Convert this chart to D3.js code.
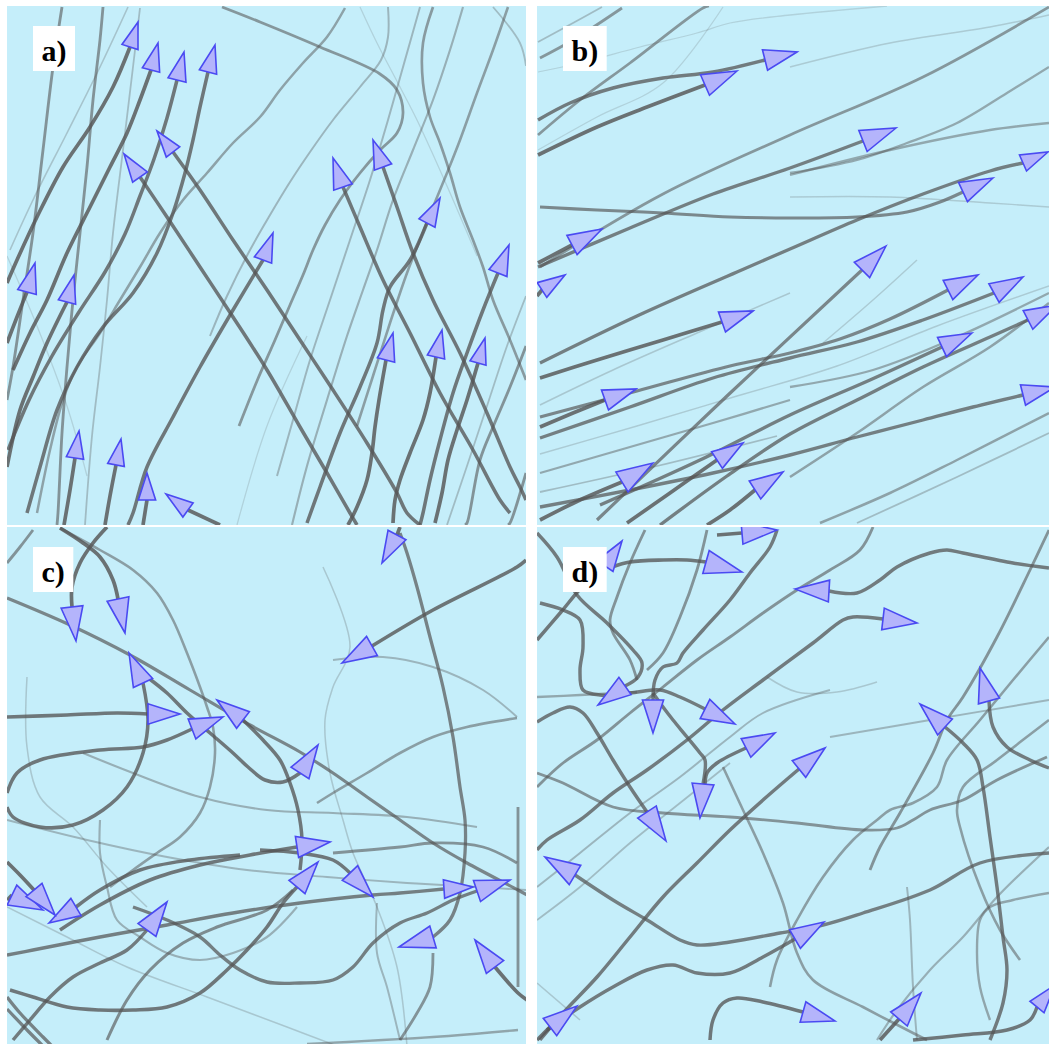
<!DOCTYPE html>
<html>
<head>
<meta charset="utf-8">
<script src="https://cdn.jsdelivr.net/npm/d3@7"></script>
<style>
  html, body { margin: 0; padding: 0; background: #ffffff; overflow: hidden; }
  svg { display: block; }
</style>
</head>
<body>
<svg id="chart" width="1049" height="1044"></svg>
<script>
// Agent trails in four simulation snapshots. Each trail lists positions in
// panel world units (0..519), oldest first. When head is true the agent is
// still in view: the final point is where its heading arrow points to.
// age: 0 = current trail, larger = older trail that has faded out.

const panelLabels = ["a)", "b)", "c)", "d)"];

const trailsA = [
  {age: 0, head: true, p: [[0,277],[10,254],[30,211],[56,161],[83,121],[106,81],[123,41],[131,16]]},
  {age: 0, head: true, p: [[6,364],[23,327],[40,294],[60,247],[83,201],[103,161],[120,127],[133,94],[144,64],[151,37]]},
  {age: 0.2, head: true, p: [[1,444],[22,394],[45,350],[72,306],[98,266],[118,228],[133,190],[147,153],[160,112],[170,74],[177,46]]},
  {age: 0.2, head: true, p: [[20,507],[33,461],[50,404],[70,361],[96,321],[126,287],[150,247],[166,207],[178,167],[186,134],[193,101],[201,66],[208,39]]},
  {age: 0.2, head: true, p: [[413,519],[400,507],[390,487],[360,437],[326,384],[293,334],[260,284],[226,234],[193,184],[166,146],[150,125]]},
  {age: 0.2, head: true, p: [[350,519],[343,507],[320,467],[293,421],[260,364],[226,311],[193,261],[160,211],[133,171],[117,148]]},
  {age: 0.2, head: true, p: [[121,519],[126,507],[140,461],[166,411],[193,361],[226,304],[256,254],[266,227]]},
  {age: 0.2, head: true, p: [[503,507],[493,494],[466,444],[433,387],[403,327],[376,274],[353,221],[336,181],[326,152]]},
  {age: 0.2, head: true, p: [[519,494],[513,481],[503,461],[480,407],[453,347],[426,294],[406,247],[390,201],[376,161],[366,134]]},
  {age: 0.2, head: true, p: [[300,517],[313,481],[333,427],[353,381],[370,337],[376,304],[383,281],[403,254],[420,217],[433,192]]},
  {age: 0.2, head: true, p: [[413,519],[416,507],[423,474],[433,434],[446,387],[460,347],[476,304],[491,267],[502,239]]},
  {age: 0, head: true, p: [[341,519],[350,501],[360,474],[365,447],[368,421],[372,394],[379,354],[386,327]]},
  {age: 0, head: true, p: [[386,517],[388,494],[393,474],[403,447],[416,414],[423,387],[429,351],[435,324]]},
  {age: 0, head: true, p: [[428,517],[435,487],[441,454],[450,424],[460,394],[471,357],[478,332]]},
  {age: 0, head: true, p: [[57,519],[63,484],[68,452],[72,425]]},
  {age: 0, head: true, p: [[98,519],[103,490],[109,459],[114,433]]},
  {age: 0, head: true, p: [[136,519],[140,494],[140,467]]},
  {age: 0, head: true, p: [[213,519],[181,504],[159,488]]},
  {age: 0, head: true, p: [[0,337],[10,311],[20,286],[28,257]]},
  {age: 0, head: true, p: [[0,461],[13,404],[26,371],[40,337],[60,296],[67,269]]},
  {age: 1, head: false, p: [[55,1],[46,61],[36,144],[26,227],[16,294],[6,361],[0,394]]},
  {age: 1, head: false, p: [[96,1],[93,34],[86,94],[80,161],[73,227],[66,294],[60,361],[55,427],[51,507],[50,519]]},
  {age: 2.2, head: false, p: [[133,2],[126,61],[116,144],[106,227],[100,294],[93,361],[85,430],[78,519]]},
  {age: 2.4, head: false, p: [[121,1],[93,61],[60,127],[26,194],[3,244]]},
  {age: 1.1, head: false, p: [[215,1],[253,16],[313,41],[373,68],[390,84],[396,107],[390,127],[373,144],[353,167],[333,194],[318,219],[306,244],[296,269],[283,299],[268,334],[250,375],[232,420]]},
  {age: 1.4, head: false, p: [[338,2],[320,31],[296,57],[273,84],[253,111],[226,137],[200,167],[176,194],[153,227],[133,261],[113,294],[93,327],[70,361],[56,394],[43,444],[30,507]]},
  {age: 2, head: false, p: [[381,1],[381,31],[374,54],[353,81],[326,114],[303,146],[283,176],[263,209],[243,244],[220,290],[203,330]]},
  {age: 2, head: false, p: [[413,1],[398,54],[381,114],[363,174],[343,234],[323,294],[303,354],[286,414],[270,470]]},
  {age: 1.2, head: false, p: [[426,1],[416,37],[416,77],[423,111],[433,137],[443,167],[453,201],[466,234],[476,261],[486,294],[503,334],[519,374]]},
  {age: 1.8, head: false, p: [[456,1],[443,44],[426,94],[406,144],[386,194],[370,244],[356,284],[340,330],[320,394],[300,460],[285,519]]},
  {age: 1.3, head: false, p: [[501,1],[486,44],[470,87],[453,134],[440,167],[426,201],[413,234],[400,267],[383,317],[366,370],[350,420]]},
  {age: 2.8, head: false, p: [[353,1],[370,37],[393,81],[410,114],[440,180],[470,250]]},
  {age: 2.2, head: false, p: [[486,1],[513,37],[519,60]]},
  {age: 1, head: false, p: [[519,340],[503,381],[486,421],[473,454],[460,517],[458,519]]},
  {age: 1, head: false, p: [[519,467],[503,517],[501,519]]},
  {age: 2.8, head: false, p: [[0,250],[30,320],[60,400],[80,470]]},
  {age: 2.8, head: false, p: [[230,519],[260,420],[300,330]]},
  {age: 2.2, head: false, p: [[440,519],[460,460],[480,400],[500,340],[519,290]]}
];

const trailsB = [
  {age: 0, head: true, p: [[1,149],[60,121],[110,101],[168,79],[200,65]]},
  {age: 0.3, head: true, p: [[1,114],[33,97],[76,82],[126,72],[176,66],[228,54],[260,46]]},
  {age: 1.1, head: false, p: [[1,129],[43,94],[93,57],[166,2],[172,0]]},
  {age: 1.1, head: false, p: [[3,52],[36,34],[85,2]]},
  {age: 2.2, head: false, p: [[1,36],[36,17],[65,1]]},
  {age: 2.8, head: false, p: [[1,66],[43,57],[103,41],[160,27],[193,17],[253,9],[350,0]]},
  {age: 2.8, head: false, p: [[1,144],[60,111],[126,77],[186,1]]},
  {age: 0.7, head: true, p: [[3,201],[60,204],[126,207],[193,211],[253,212],[320,211],[370,206],[403,196],[426,186],[456,172]]},
  {age: 0, head: true, p: [[1,257],[35,239],[65,223]]},
  {age: 0.4, head: true, p: [[1,261],[93,222],[176,188],[253,162],[326,135],[359,122]]},
  {age: 1.1, head: false, p: [[3,261],[126,188],[253,129],[386,71],[512,1]]},
  {age: 2.6, head: false, p: [[253,61],[353,37],[453,21],[512,9]]},
  {age: 1.6, head: false, p: [[253,167],[320,154],[370,137],[420,117],[470,87],[512,61]]},
  {age: 2.6, head: false, p: [[253,191],[353,191],[453,197],[512,201]]},
  {age: 1.6, head: false, p: [[253,169],[353,144],[453,124],[512,117]]},
  {age: 0.4, head: true, p: [[3,357],[100,310],[200,266],[253,243],[320,214],[386,188],[453,165],[486,157],[511,146]]},
  {age: 0, head: true, p: [[3,372],[60,354],[126,334],[185,316],[216,305]]},
  {age: 0, head: true, p: [[3,421],[36,407],[68,394],[99,383]]},
  {age: 0.6, head: true, p: [[3,411],[100,385],[193,360],[253,347],[303,333],[353,313],[411,284],[441,269]]},
  {age: 0.4, head: true, p: [[3,432],[93,401],[176,372],[253,352],[320,336],[386,314],[457,287],[486,271]]},
  {age: 2.5, head: false, p: [[3,399],[76,364],[160,327],[253,287]]},
  {age: 1.6, head: false, p: [[3,467],[93,441],[176,417],[253,394]]},
  {age: 0.6, head: true, p: [[60,514],[190,390],[325,264],[349,240]]},
  {age: 0, head: true, p: [[90,517],[133,487],[180,454],[206,437]]},
  {age: 0, head: true, p: [[3,514],[43,494],[85,476],[116,457]]},
  {age: 0, head: true, p: [[170,519],[193,504],[218,484],[246,466]]},
  {age: 0, head: true, p: [[0,290],[5,284],[28,269]]},
  {age: 0.4, head: true, p: [[123,519],[190,470],[253,428],[320,394],[386,361],[453,331],[491,314],[520,299]]},
  {age: 0.4, head: true, p: [[63,499],[163,454],[253,409],[333,374],[405,341],[435,327]]},
  {age: 0.4, head: true, p: [[3,501],[93,484],[176,467],[253,449],[320,431],[386,414],[436,401],[486,389],[518,381]]},
  {age: 1.4, head: false, p: [[253,471],[320,427],[386,381],[453,341],[512,297]]},
  {age: 1.4, head: false, p: [[283,517],[353,487],[420,454],[512,407]]},
  {age: 2.2, head: false, p: [[320,517],[420,471],[512,427]]},
  {age: 2.6, head: false, p: [[286,337],[336,294],[380,254]]},
  {age: 1.6, head: false, p: [[253,381],[336,364],[420,331],[512,287]]},
  {age: 2.6, head: false, p: [[3,448],[100,420],[200,390],[300,360],[400,320],[512,280]]},
  {age: 2.2, head: false, p: [[3,486],[120,460],[240,430]]}
];

const trailsC = [
  {age: 0, head: true, p: [[100,0],[86,16],[73,36],[65,60],[65,80],[69,114]]},
  {age: 0, head: true, p: [[53,1],[76,16],[93,30],[106,53],[111,72],[118,106]]},
  {age: 0.2, head: true, p: [[0,280],[6,290],[33,300],[66,298],[96,283],[120,260],[136,226],[141,193],[136,156],[122,126]]},
  {age: 0.2, head: true, p: [[0,190],[60,188],[110,186],[141,187],[173,187]]},
  {age: 0.2, head: true, p: [[0,266],[10,246],[33,233],[93,223],[136,220],[160,213],[185,202],[216,190]]},
  {age: 0.2, head: true, p: [[293,343],[295,313],[291,283],[283,256],[273,233],[256,213],[236,193],[210,173]]},
  {age: 0.2, head: true, p: [[140,150],[160,166],[180,186],[203,206],[226,226],[241,240],[258,253],[276,255],[293,246],[311,218]]},
  {age: 0.2, head: true, p: [[53,403],[93,378],[143,353],[193,338],[243,328],[290,320],[323,315]]},
  {age: 0.2, head: true, p: [[253,323],[293,326],[326,333],[343,346],[366,370]]},
  {age: 0.2, head: true, p: [[3,463],[26,470],[60,480],[93,483],[126,483],[160,480],[193,466],[220,443],[240,423],[260,400],[276,376],[290,360],[311,335]]},
  {age: 0.2, head: true, p: [[233,328],[183,333],[133,343],[93,363],[69,380],[42,396]]},
  {age: 0.4, head: true, p: [[0,428],[26,423],[93,410],[160,398],[226,386],[293,376],[366,368],[393,366],[437,362],[466,360]]},
  {age: 0.4, head: true, p: [[126,380],[160,393],[193,410],[213,428],[233,443],[260,455],[293,456],[326,453],[346,440],[366,416],[393,396],[420,386],[446,373],[470,364],[503,353]]},
  {age: 0.5, head: true, p: [[393,6],[400,26],[410,60],[423,110],[436,160],[446,210],[453,260],[458,293],[458,326],[453,366],[443,393],[426,410],[392,420]]},
  {age: 0, head: true, p: [[393,0],[390,8],[375,36]]},
  {age: 0.1, head: true, p: [[519,33],[510,40],[426,83],[365,119],[335,136]]},
  {age: 0, head: true, p: [[520,473],[511,466],[488,440],[468,413]]},
  {age: 0, head: true, p: [[0,373],[5,368],[36,383]]},
  {age: 0, head: true, p: [[0,335],[13,348],[27,363],[48,388]]},
  {age: 0.3, head: true, p: [[6,513],[23,493],[43,470],[66,450],[93,436],[120,423],[140,403],[160,375]]},
  {age: 1, head: false, p: [[0,36],[13,20],[26,3]]},
  {age: 1.3, head: false, p: [[53,1],[93,23],[126,43],[150,66],[166,93],[180,126],[193,160],[200,180],[206,200],[208,226],[203,260],[193,286],[173,310],[150,326],[126,343],[103,360]]},
  {age: 0.6, head: false, p: [[0,71],[63,98],[123,128],[183,163],[243,198],[293,225],[326,246],[360,270],[393,293],[426,316],[460,336],[511,363],[520,368]]},
  {age: 1.3, head: false, p: [[510,191],[460,200],[426,210],[393,226],[360,246],[326,266],[310,276]]},
  {age: 1, head: false, p: [[510,336],[476,320],[426,316],[393,320],[326,326]]},
  {age: 1.5, head: false, p: [[511,503],[426,510],[300,517]]},
  {age: 1, head: false, p: [[393,513],[410,486],[423,460],[426,426]]},
  {age: 2, head: false, p: [[326,133],[376,130],[426,140],[476,163],[510,190]]},
  {age: 0.8, head: false, p: [[100,513],[120,473],[143,443],[176,416],[210,400],[260,383],[286,363]]},
  {age: 1, head: false, p: [[511,280],[511,460]]},
  {age: 0.5, head: false, p: [[0,470],[13,486],[36,510],[45,519]]},
  {age: 0.5, head: false, p: [[0,482],[22,505],[36,519]]},
  {age: 2.5, head: false, p: [[316,40],[343,120],[326,160],[318,193],[323,246],[336,293],[346,326],[370,380],[390,440],[400,519]]},
  {age: 2.5, head: false, p: [[0,380],[60,410],[120,440],[200,470],[280,500],[330,519]]},
  {age: 2, head: false, p: [[0,293],[80,313],[160,330],[240,343],[320,350],[400,356],[470,360],[519,363]]},
  {age: 1.8, head: false, p: [[76,226],[126,246],[193,270],[260,283],[326,286],[400,290],[470,300]]},
  {age: 2.5, head: false, p: [[20,150],[20,220],[33,270],[66,300],[100,340],[140,380]]},
  {age: 1.8, head: false, p: [[93,293],[93,326],[100,360],[110,393],[133,410],[160,426],[193,433],[226,426],[260,410],[290,380]]},
  {age: 2, head: false, p: [[370,376],[370,426],[380,460],[393,513]]}
];

const trailsD = [
  {age: 0.2, head: true, p: [[75,40],[93,35],[126,33],[150,33],[169,35],[205,45]]},
  {age: 0.2, head: true, p: [[0,113],[24,85],[45,60],[68,39],[85,14]]},
  {age: 0, head: true, p: [[180,8],[205,6],[240,3]]},
  {age: 0.3, head: true, p: [[512,41],[476,36],[426,26],[410,23],[393,26],[360,40],[343,53],[320,66],[292,64],[258,62]]},
  {age: 0.3, head: true, p: [[0,323],[10,313],[43,293],[76,266],[110,243],[150,213],[186,183],[226,153],[276,116],[306,93],[316,90],[346,92],[380,96]]},
  {age: 0.3, head: true, p: [[0,6],[20,30],[40,68],[70,96],[96,123],[105,136],[101,150],[88,159],[61,178]]},
  {age: 0.3, head: true, p: [[240,3],[233,20],[213,46],[193,73],[166,103],[146,126],[140,136],[126,140],[118,153],[116,173],[116,206]]},
  {age: 0.3, head: true, p: [[3,76],[26,83],[43,93],[46,120],[43,143],[46,163],[63,168],[93,166],[123,163],[143,170],[168,182],[198,197]]},
  {age: 0.2, head: true, p: [[168,260],[170,246],[180,236],[209,221],[238,206]]},
  {age: 0.3, head: true, p: [[116,166],[126,180],[136,193],[150,210],[163,226],[168,233],[166,257],[163,291]]},
  {age: 0.3, head: true, p: [[3,513],[26,486],[60,450],[93,410],[126,370],[160,336],[193,303],[226,273],[262,242],[288,221]]},
  {age: 0.3, head: true, p: [[0,195],[16,186],[33,180],[46,186],[60,206],[76,233],[93,260],[110,285],[129,314]]},
  {age: 0.4, head: true, p: [[512,326],[443,336],[393,363],[326,386],[286,398],[243,406],[193,415],[160,418],[143,413],[110,393],[76,373],[38,348],[8,330]]},
  {age: 0.3, head: true, p: [[10,503],[43,480],[76,460],[110,443],[136,438],[160,446],[193,446],[226,430],[258,412],[287,395]]},
  {age: 0.2, head: true, p: [[173,513],[176,493],[186,476],[200,471],[226,475],[266,485],[298,494]]},
  {age: 0, head: true, p: [[343,513],[362,492],[384,466]]},
  {age: 0, head: true, p: [[0,513],[13,500],[40,479]]},
  {age: 0.2, head: true, p: [[376,513],[426,508],[470,503],[493,493],[500,480],[518,458]]},
  {age: 0.3, head: true, p: [[453,513],[466,476],[470,443],[466,410],[460,360],[453,310],[446,260],[440,233],[426,216],[408,200],[383,177]]},
  {age: 0.3, head: true, p: [[512,241],[493,233],[470,220],[456,200],[452,174],[443,141]]},
  {age: 1, head: false, p: [[108,3],[93,36],[80,70],[73,93],[76,106],[93,133],[100,153]]},
  {age: 1, head: false, p: [[170,3],[160,43],[143,90],[126,126],[110,143]]},
  {age: 1, head: false, p: [[336,0],[323,23],[293,43],[260,63],[226,86],[193,110],[160,133],[126,160],[93,186],[60,213],[26,236],[0,260]]},
  {age: 1, head: false, p: [[0,246],[26,256],[76,280],[126,286],[193,290],[260,296],[326,303],[360,301],[376,293],[393,283],[426,273],[460,253],[510,230]]},
  {age: 1.3, head: false, p: [[186,240],[206,283],[226,326],[246,376],[260,426],[276,453],[326,480],[376,506],[390,513]]},
  {age: 1, head: false, p: [[512,3],[493,43],[460,110],[426,170],[410,193],[396,226],[363,286],[343,320],[333,343]]},
  {age: 1.3, head: false, p: [[512,110],[476,153],[443,193],[410,233],[400,260],[376,276],[353,283],[340,293],[316,313],[286,350],[260,393],[240,433],[233,460]]},
  {age: 2, head: false, p: [[512,173],[393,193],[293,210]]},
  {age: 1.3, head: false, p: [[512,193],[460,233],[426,260],[420,283],[423,300],[443,360],[463,403],[483,433]]},
  {age: 1.6, head: false, p: [[0,170],[43,168],[100,165]]},
  {age: 2, head: false, p: [[0,360],[43,326],[93,286],[143,250],[193,210],[226,186],[293,163]]},
  {age: 2.2, head: false, p: [[0,393],[43,360],[93,316],[143,276],[193,236]]},
  {age: 1.8, head: false, p: [[340,513],[360,483],[393,443],[426,410],[460,370],[512,320]]},
  {age: 2, head: false, p: [[370,360],[373,393],[376,460],[380,513]]},
  {age: 2.5, head: false, p: [[230,150],[260,165],[300,165],[340,155]]},
  {age: 2.5, head: false, p: [[0,456],[43,493]]},
  {age: 1.5, head: false, p: [[512,366],[476,373],[453,380],[443,393],[440,426],[443,460],[453,493]]}
];

// ---- layout ----
const PANEL = 519;
const colX = d3.scaleOrdinal().domain([0, 1]).range([7, 537]);
const rowY = d3.scaleOrdinal().domain([0, 1]).range([6, 527]);

const panels = [
  {label: panelLabels[0], trails: trailsA, col: 0, row: 0},
  {label: panelLabels[1], trails: trailsB, col: 1, row: 0},
  {label: panelLabels[2], trails: trailsC, col: 0, row: 1},
  {label: panelLabels[3], trails: trailsD, col: 1, row: 1}
];

const x = d3.scaleLinear().domain([0, 519]).range([0, PANEL]);
const y = d3.scaleLinear().domain([0, 519]).range([0, PANEL]);
const widthByAge = d3.scaleLinear().domain([0, 3]).range([3.7, 1.1]).clamp(true);
const opacityByAge = d3.scaleLinear().domain([0, 3]).range([0.82, 0.14]).clamp(true);

const line = d3.line()
  .x(d => x(d[0]))
  .y(d => y(d[1]))
  .curve(d3.curveCatmullRom.alpha(0.5));

function arrowPoints(base, tip) {
  const bx = x(base[0]), by = y(base[1]);
  const tx = x(tip[0]), ty = y(tip[1]);
  const dx = tx - bx, dy = ty - by;
  const len = Math.hypot(dx, dy);
  const nx = -dy / len, ny = dx / len;
  const half = len * 0.32;
  return [[tx, ty], [bx + nx * half, by + ny * half], [bx - nx * half, by - ny * half]];
}

const svg = d3.select("#chart");
const defs = svg.append("defs");

panels.forEach((pn, i) => {
  const g = svg.append("g")
    .attr("transform", `translate(${colX(pn.col)},${rowY(pn.row)})`);

  defs.append("clipPath").attr("id", "clip" + i)
    .append("rect").attr("width", PANEL).attr("height", PANEL);

  const body = g.append("g").attr("clip-path", `url(#clip${i})`);

  body.append("rect")
    .attr("width", PANEL).attr("height", PANEL)
    .attr("fill", "#c5eefa");

  const ordered = pn.trails.slice().sort((a, b) => b.age - a.age);

  body.append("g").selectAll("path")
    .data(ordered)
    .join("path")
    .attr("d", d => line(d.head ? d.p.slice(0, -1) : d.p))
    .attr("fill", "none")
    .attr("stroke", "#555555")
    .attr("stroke-opacity", d => opacityByAge(d.age))
    .attr("stroke-width", d => widthByAge(d.age))
    .attr("stroke-linejoin", "round")
    .attr("stroke-linecap", "butt");

  body.append("g").selectAll("polygon")
    .data(pn.trails.filter(d => d.head))
    .join("polygon")
    .attr("points", d => {
      const n = d.p.length;
      return arrowPoints(d.p[n - 2], d.p[n - 1]).map(q => q.join(",")).join(" ");
    })
    .attr("fill", "#b4b4fb")
    .attr("stroke", "#4a4af2")
    .attr("stroke-width", 1.6)
    .attr("stroke-linejoin", "miter");

  // panel tag
  const tag = g.append("g").attr("transform", "translate(26,20)");
  const box = tag.append("rect").attr("fill", "#ffffff");
  const txt = tag.append("text")
    .attr("x", 8.5).attr("y", 35)
    .attr("font-family", "'Liberation Serif', 'DejaVu Serif', serif")
    .attr("font-weight", "bold")
    .attr("font-size", 30)
    .attr("fill", "#000000")
    .text(pn.label);
  const bb = txt.node().getBBox();
  box.attr("x", 0).attr("y", 0).attr("width", bb.width + 17).attr("height", 45);
});
</script>
</body>
</html>
